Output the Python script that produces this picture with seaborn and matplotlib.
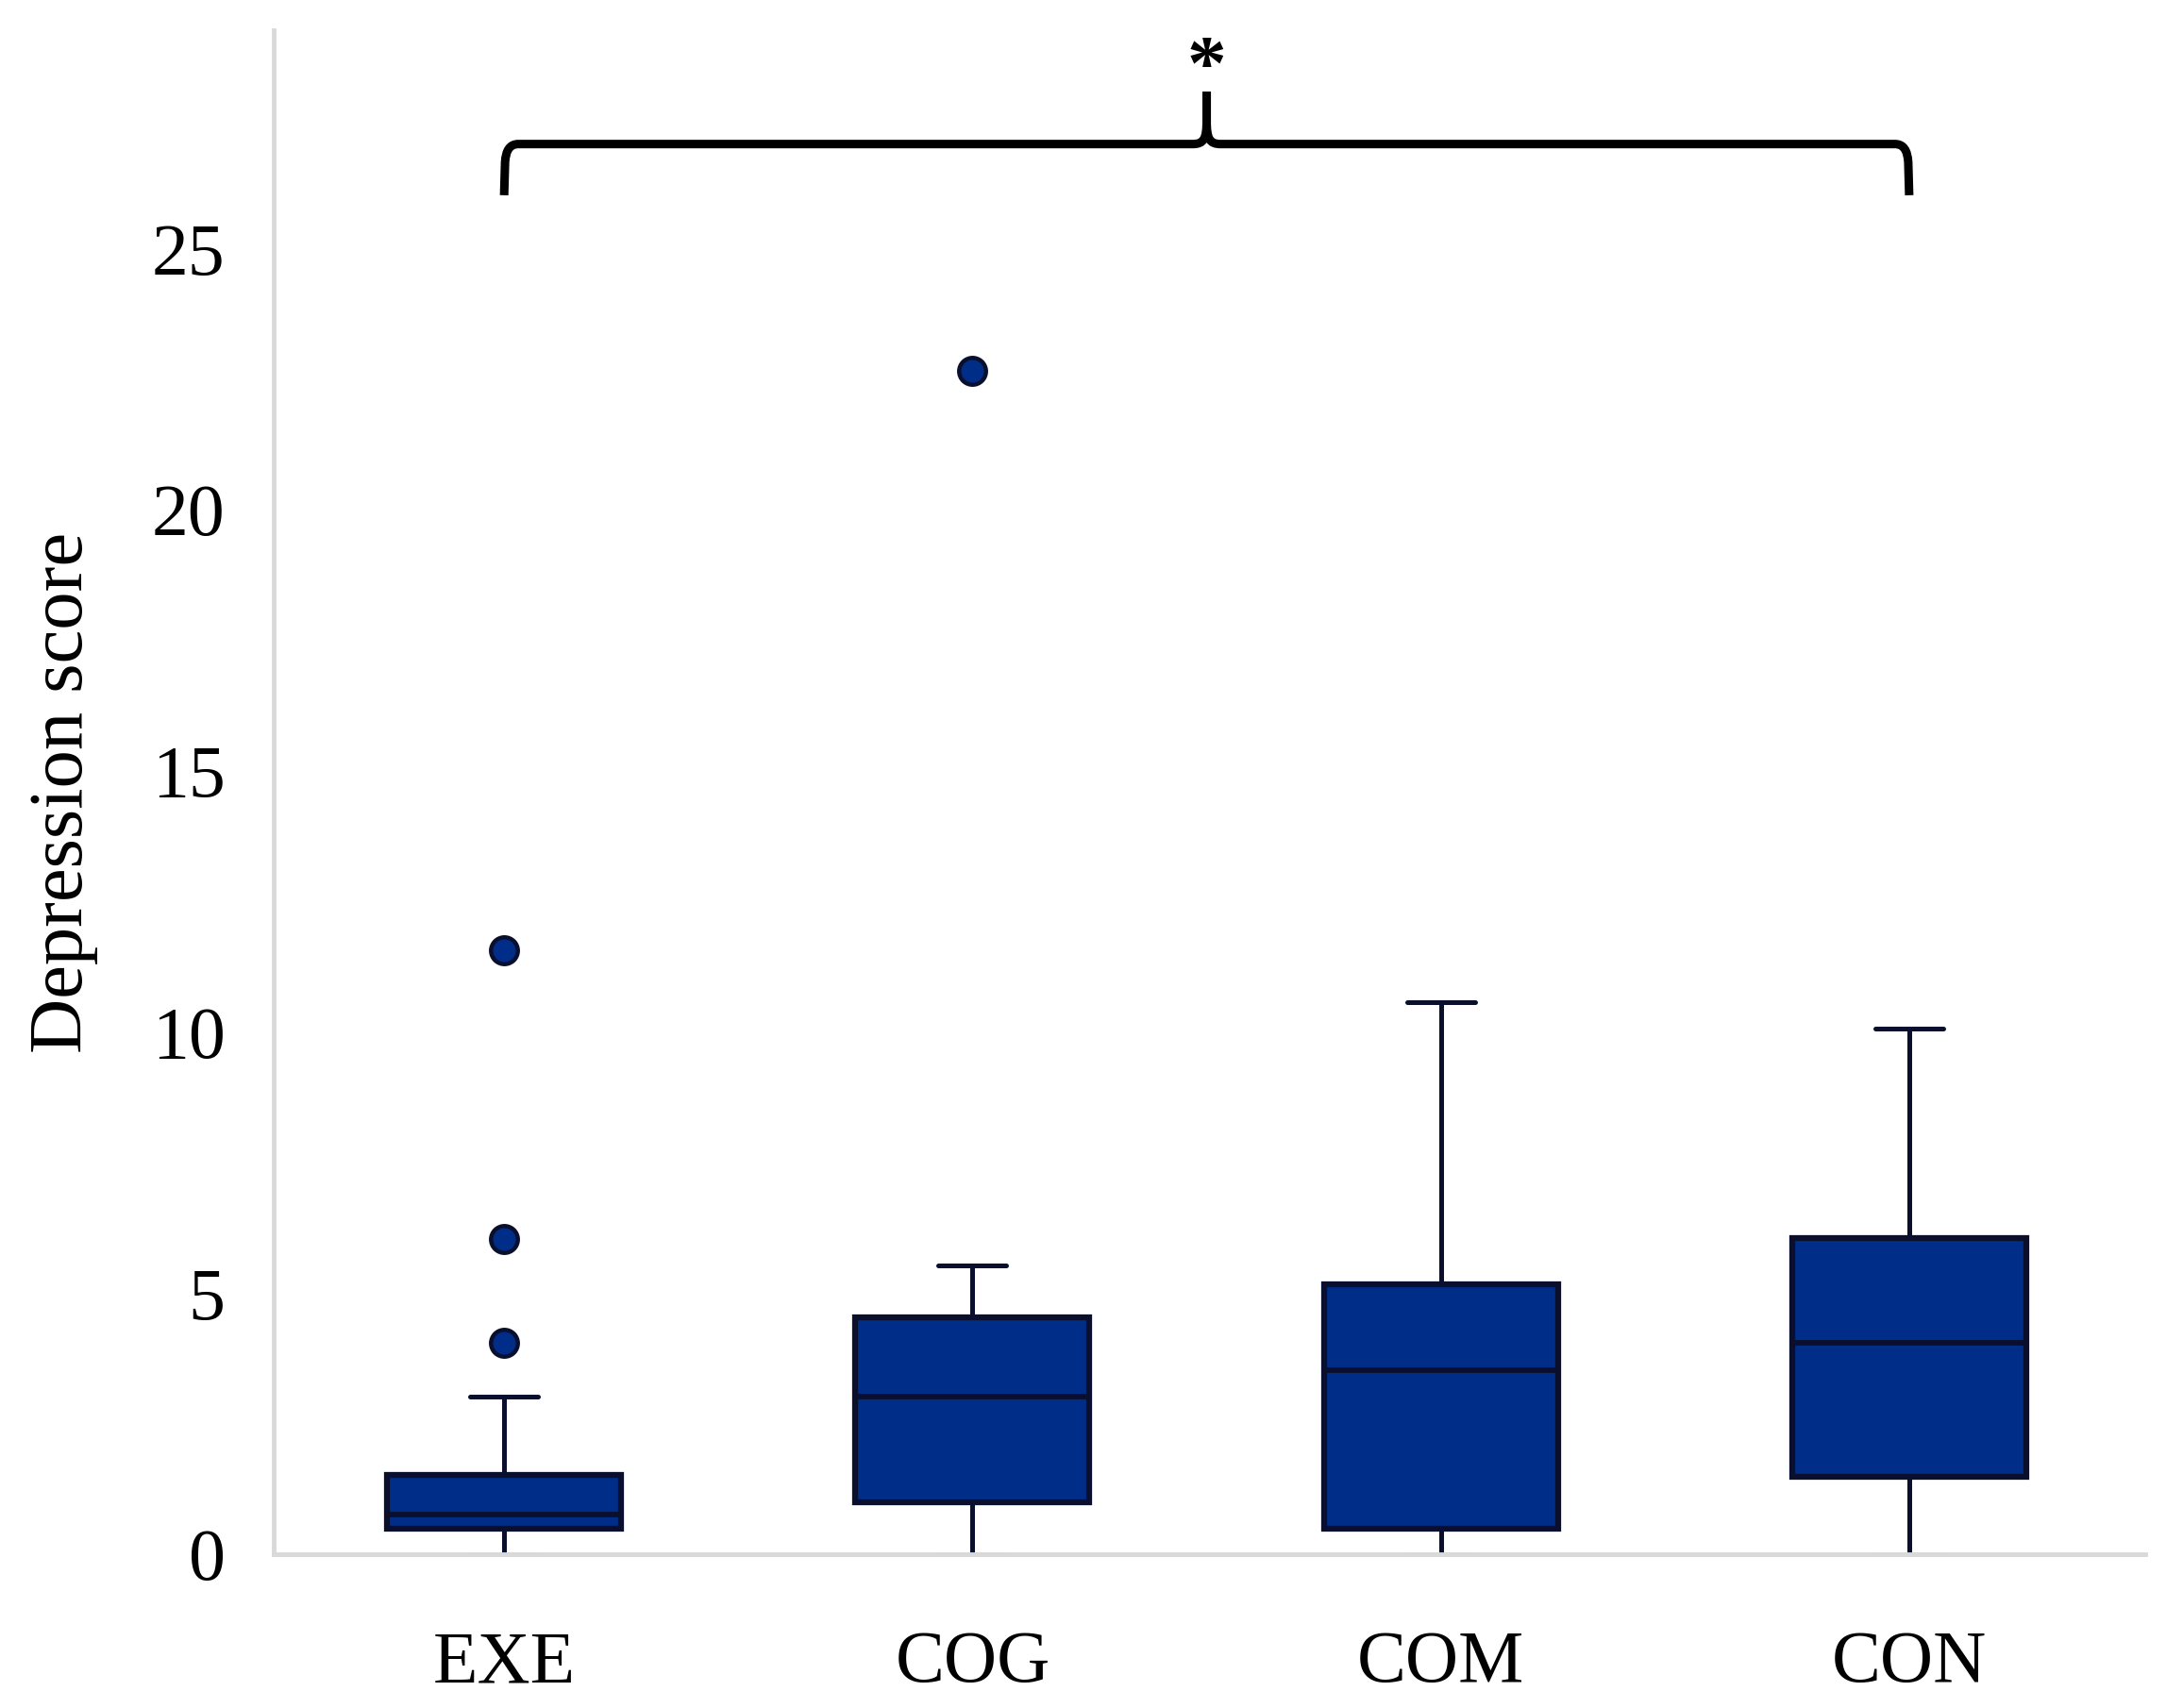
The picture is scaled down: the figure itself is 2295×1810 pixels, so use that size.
import matplotlib
matplotlib.use("Agg")
import matplotlib.pyplot as plt
from matplotlib.path import Path
from matplotlib.patches import PathPatch
import seaborn as sns

# ---- data ----
groups = ["EXE", "COG", "COM", "CON"]
whisker_low = [0.0, 0.0, 0.0, 0.0]
q1 = [0.49, 0.99, 0.49, 1.48]
median = [0.76, 3.02, 3.52, 4.05]
q3 = [1.52, 4.54, 5.17, 6.05]
whisker_high = [3.02, 5.53, 10.57, 10.06]
outliers = [[4.05, 6.04, 11.57], [22.66], [], []]
y_ticks = [0, 5, 10, 15, 20, 25]
y_label = "Depression score"
signif_text = "*"

sns.set_style("white")
plt.rcParams["font.family"] = ["Liberation Serif", "DejaVu Serif"]
plt.rcParams["text.color"] = "black"
plt.rcParams["axes.labelcolor"] = "black"

FILL = "#002D87"
EDGE = "#0A0F2D"
AXC = "#D9D9D9"

fig = plt.figure(figsize=(22.95, 18.10), dpi=100)
ax = fig.add_axes([290 / 2295, 1 - 1647 / 1810, (2273 - 290) / 2295, (1647 - 32) / 1810])

stats = []
for i, g in enumerate(groups):
    stats.append(dict(label=g, whislo=whisker_low[i], q1=q1[i], med=median[i],
                      q3=q3[i], whishi=whisker_high[i], fliers=outliers[i]))

res = ax.bxp(stats, positions=range(len(groups)), widths=0.5, capwidths=0.145,
             patch_artist=True, showfliers=True,
             boxprops=dict(facecolor=FILL, edgecolor=EDGE, linewidth=4.5),
             whiskerprops=dict(color=EDGE, linewidth=3.6),
             capprops=dict(color=EDGE, linewidth=3.6),
             medianprops=dict(color=EDGE, linewidth=4.2),
             flierprops=dict(marker="o", markerfacecolor=FILL, markeredgecolor=EDGE,
                             markersize=20.5, markeredgewidth=3.2, linestyle="none"))
for c in res["caps"][0::2]:
    c.set_color(AXC)
    c.set_zorder(1.5)
for w in res["whiskers"]:
    w.set_zorder(2.5)

ax.set_xlim(-0.492, 3.504)
ax.set_ylim(0, 29.18)
ax.set_yticks(y_ticks)
ax.set_yticklabels([str(t) for t in y_ticks])
ax.set_xticks(range(len(groups)))
ax.set_xticklabels(groups)
ax.tick_params(axis="both", length=0, labelsize=56, colors="black")
ax.tick_params(axis="x", pad=58)
ax.tick_params(axis="y", pad=37)

for s in ["top", "right"]:
    ax.spines[s].set_visible(False)
for s in ["left", "bottom"]:
    ax.spines[s].set_color(AXC)
    ax.spines[s].set_linewidth(3.5)

ax.set_ylabel(y_label, fontsize=58, va="center", color="black")
ax.yaxis.set_label_coords(-0.112, 0.5)

# ---- significance brace spanning EXE..CON ----
xl, xr = 0.0, 3.0
xm = (xl + xr) / 2
y0, yh, yt = 26.02, 27.0, 28.0
verts = [
    (xl, y0), (xl + 0.002, yh - 0.35), (xl + 0.004, yh), (xl + 0.03, yh),
    (xm - 0.03, yh),
    (xm - 0.006, yh), (xm, yh + 0.1), (xm, yh + 0.45),
    (xm, yt),
    (xr, y0), (xr - 0.002, yh - 0.35), (xr - 0.004, yh), (xr - 0.03, yh),
    (xm + 0.03, yh),
    (xm + 0.006, yh), (xm, yh + 0.1), (xm, yh + 0.45),
    (xm, yt),
]
codes = [
    Path.MOVETO, Path.LINETO, Path.CURVE3, Path.CURVE3,
    Path.LINETO,
    Path.CURVE4, Path.CURVE4, Path.CURVE4,
    Path.LINETO,
    Path.MOVETO, Path.LINETO, Path.CURVE3, Path.CURVE3,
    Path.LINETO,
    Path.CURVE4, Path.CURVE4, Path.CURVE4,
    Path.LINETO,
]
brace = PathPatch(Path(verts, codes), facecolor="none", edgecolor="black",
                  linewidth=6.5, capstyle="butt", joinstyle="round", clip_on=False)
ax.add_patch(brace)
ax.text(xm, 28.42, signif_text, ha="center", va="center", fontsize=60,
        fontweight="bold", color="black", clip_on=False)

fig.savefig("out.png", dpi=100)
